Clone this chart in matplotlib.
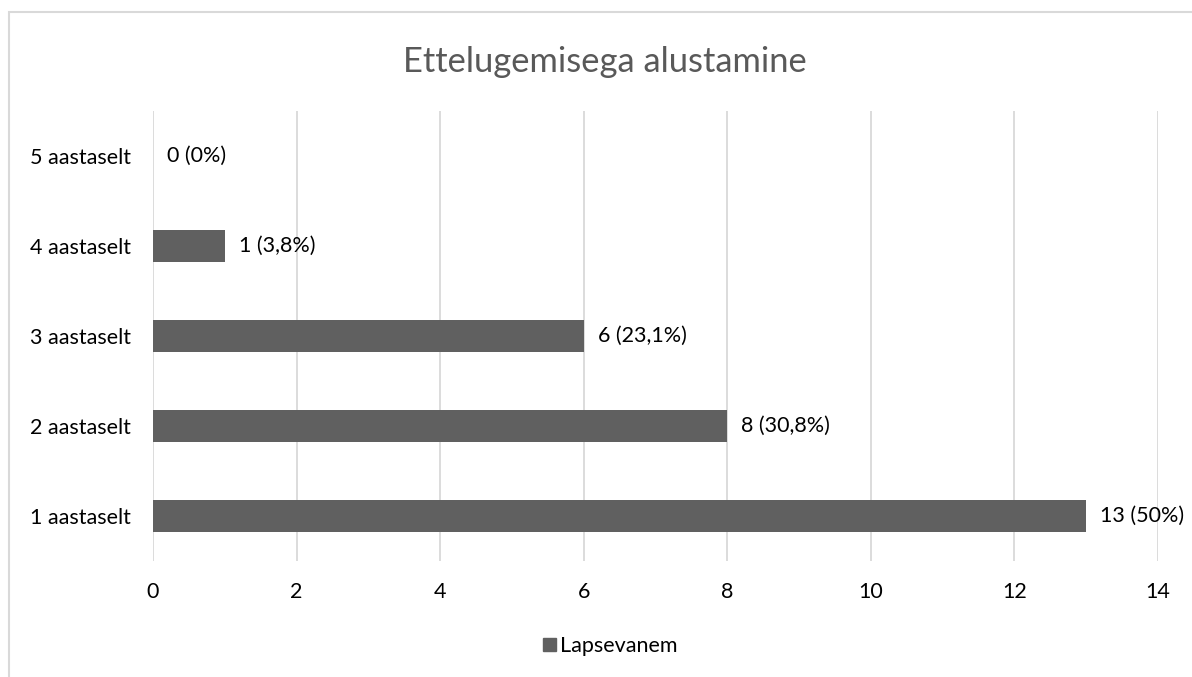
import matplotlib.pyplot as plt
import matplotlib.patches as mpatches
import numpy as np

# data
categories = ["1 aastaselt", "2 aastaselt", "3 aastaselt", "4 aastaselt", "5 aastaselt"]
counts = [13, 8, 6, 1, 0]
bar_labels = ["13 (50%)", "8 (30,8%)", "6 (23,1%)", "1 (3,8%)", "0 (0%)"]
series_name = "Lapsevanem"
x_ticks = [0, 2, 4, 6, 8, 10, 12, 14]

BAR_COLOR = "#606060"
GRID_COLOR = "#d9d9d9"
TEXT_COLOR = "#000000"
TITLE_COLOR = "#595959"
FS = 15.5

plt.rcParams["font.family"] = ["Lato", "DejaVu Sans"]

W, H = 1192, 677
fig = plt.figure(figsize=(W / 100, H / 100), dpi=100)

# chart border (only left/top visible in the crop)
fig.patches.append(mpatches.Rectangle((9 / W, -0.1), 1.2, 1 - 12 / H + 0.1,
                                      transform=fig.transFigure, fill=False,
                                      edgecolor="#d9d9d9", lw=1.5))

ax = fig.add_axes([153 / W, 1 - 561 / H, (1158 - 153) / W, (561 - 111) / H])

y = np.arange(len(categories))
ax.barh(y, counts, height=0.36, color=BAR_COLOR, zorder=3)

for yi, c, lab in zip(y, counts, bar_labels):
    ax.annotate(lab, (c, yi), textcoords="offset points", xytext=(10, 0),
                ha="left", va="center", fontsize=FS, color=TEXT_COLOR)

ax.set_xlim(0, 14)
ax.set_ylim(-0.5, len(categories) - 0.5)
ax.set_xticks(x_ticks)
ax.set_xticklabels([str(t) for t in x_ticks], fontsize=FS, color=TEXT_COLOR)
ax.set_yticks(y)
ax.set_yticklabels(categories, fontsize=FS, color=TEXT_COLOR)
ax.tick_params(length=0, pad=16, axis="y")
ax.tick_params(length=0, pad=15, axis="x")
ax.grid(axis="x", color=GRID_COLOR, lw=1.3, zorder=0)
for s in ax.spines.values():
    s.set_visible(False)

fig.text(605 / W, 1 - 62 / H, "Ettelugemisega alustamine", ha="center", va="center",
         fontsize=24.8, color=TITLE_COLOR)

handle = mpatches.Patch(color=BAR_COLOR, label=series_name)
fig.legend(handles=[handle], loc="center", bbox_to_anchor=(610 / W, 1 - 646 / H),
           frameon=False, fontsize=FS, handlelength=0.6, handleheight=0.6,
           handletextpad=0.2)

fig.savefig("out.png", dpi=100)
